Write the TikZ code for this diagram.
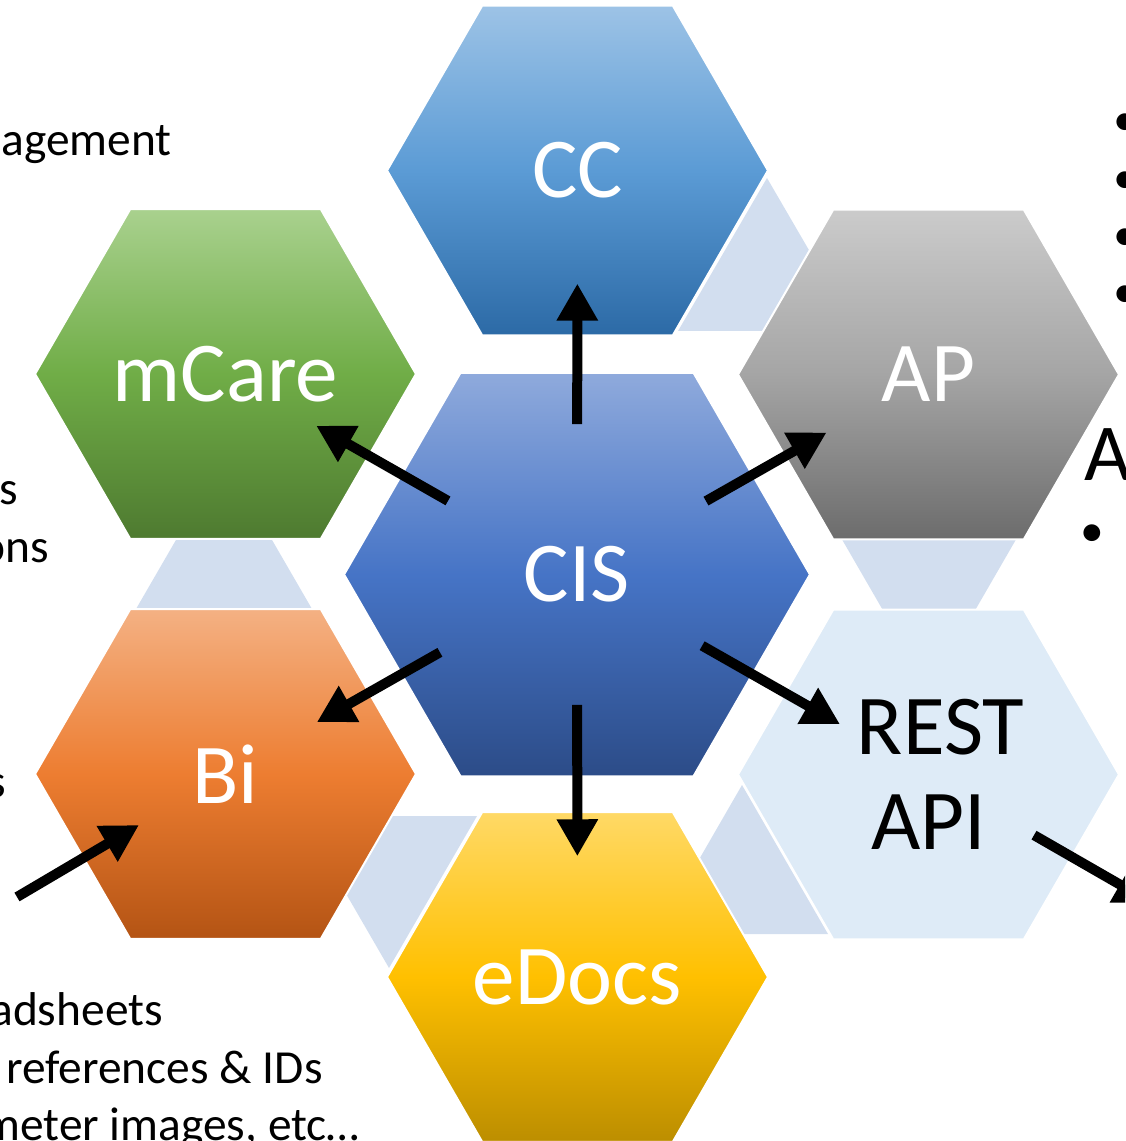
\documentclass[tikz,border=0pt]{standalone}
\usepackage{fontspec}
\setmainfont{Carlito}
\usetikzlibrary{calc,arrows.meta,shapes.geometric}
\definecolor{tri}{RGB}{210,222,239}
\definecolor{restfill}{RGB}{222,235,247}
\definecolor{ccT}{RGB}{157,195,230}\definecolor{ccM}{RGB}{91,155,213}\definecolor{ccB}{RGB}{44,106,166}
\definecolor{cisT}{RGB}{143,170,220}\definecolor{cisM}{RGB}{70,116,198}\definecolor{cisB}{RGB}{44,76,136}
\definecolor{mcT}{RGB}{169,209,142}\definecolor{mcM}{RGB}{112,173,71}\definecolor{mcB}{RGB}{78,122,48}
\definecolor{apT}{RGB}{203,203,203}\definecolor{apM}{RGB}{165,165,165}\definecolor{apB}{RGB}{108,108,108}
\definecolor{biT}{RGB}{244,177,131}\definecolor{biM}{RGB}{237,125,49}\definecolor{biB}{RGB}{180,84,20}
\definecolor{edT}{RGB}{255,217,102}\definecolor{edM}{RGB}{255,192,0}\definecolor{edB}{RGB}{188,142,0}
\begin{document}
\begin{tikzpicture}[x=0.02cm,y=-0.02cm,
  hexbox/.style={regular polygon, regular polygon sides=6, inner sep=0pt, outer sep=0pt,
    draw=white, line width=0.04cm, text=white, font=\fontsize{48.5}{54}\selectfont},
  small/.style={minimum size=7.62cm},
  big/.style={minimum size=9.32cm},
  arr/.style={line width=0.2cm, -{Triangle[length=0.74cm,width=0.78cm]}},
  body/.style={inner sep=0pt, anchor=base west, font=\fontsize{27}{33}\selectfont},
  bul/.style={inner sep=0pt, anchor=base, font=\fontsize{27}{33}\selectfont}]
\useasboundingbox (0,0) rectangle (1125,1141);
\clip (0,0) rectangle (1125,1141);
% background triangles
\fill[tri] (678,331) -- (767,178) -- (856,331) -- cycle;
\fill[tri] (840,536) -- (1018,536) -- (929,690) -- cycle;
\fill[tri] (136,609) -- (224,457) -- (312,609) -- cycle;
\fill[tri] (301,816) -- (477,816) -- (389,968) -- cycle;
\fill[tri] (656,934) -- (742,785) -- (828,934) -- cycle;
% hexagons
\node[hexbox,small,top color=ccT,bottom color=ccB,middle color=ccM] (cc) at (577.5,170.5) {CC};
\node[hexbox,small,top color=mcT,bottom color=mcB,middle color=mcM] (mcare) at (225.5,374) {mCare};
\node[hexbox,small,top color=apT,bottom color=apB,middle color=apM] (ap) at (928.5,374.5) {AP};
\node[hexbox,small,top color=biT,bottom color=biB,middle color=biM] (bi) at (225.5,774) {Bi};
\node[hexbox,small,fill=restfill,text=black,align=center] (rest) at (928.5,774.5) {\hspace*{0.48cm}REST\\API};
\node[hexbox,small,top color=edT,bottom color=edB,middle color=edM] (edocs) at (577.5,977) {eDocs};
\node[hexbox,big,top color=cisT,bottom color=cisB,middle color=cisM] (cis) at (577,574.5) {CIS};
% arrows
\draw[arr] ($(cis)!0.372!(cc)$) -- ($(cis)!0.72!(cc)$);
\draw[arr] ($(cis)!0.367!(mcare)$) -- ($(cis)!0.742!(mcare)$);
\draw[arr] ($(cis)!0.367!(ap)$) -- ($(cis)!0.71!(ap)$);
\draw[arr] ($(cis)!0.39!(bi)$) -- ($(cis)!0.74!(bi)$);
\draw[arr] ($(cis)!0.324!(edocs)$) -- ($(cis)!0.70!(edocs)$);
\draw[arr] ($(cis)!0.356!(rest)$) -- ($(cis)!0.748!(rest)$);
\coordinate (biin) at (17,897);
\coordinate (restout) at (1152,903);
\draw[arr] (biin) -- ($(biin)!0.585!(bi)$);
\draw[arr] ($(rest)!0.472!(restout)$) -- (restout);
% side texts
\node[body] (t1) at (1,156) {agement};
\node[body] (t2) at (-1,504) {s};
\node[body] (t3) at (-20,562) {ons};
\node[body] (t4) at (-13,797) {s};
\node[body] (t5) at (-10,1025) {adsheets};
\node[body] (t6) at (6,1083) {references \& IDs};
\node[body] (t7) at (-18,1140) {meter images, etc…};
\node[bul] (b1) at (1125,136) {•};
\node[bul] (b2) at (1125,194) {•};
\node[bul] (b3) at (1125,251) {•};
\node[bul] (b4) at (1125,308) {•};
\node[inner sep=0pt, anchor=base west, font=\fontsize{46}{52}\selectfont] (ta) at (1084,480) {A};
\node[bul] (b5) at (1092,546) {•};
\end{tikzpicture}
\end{document}
